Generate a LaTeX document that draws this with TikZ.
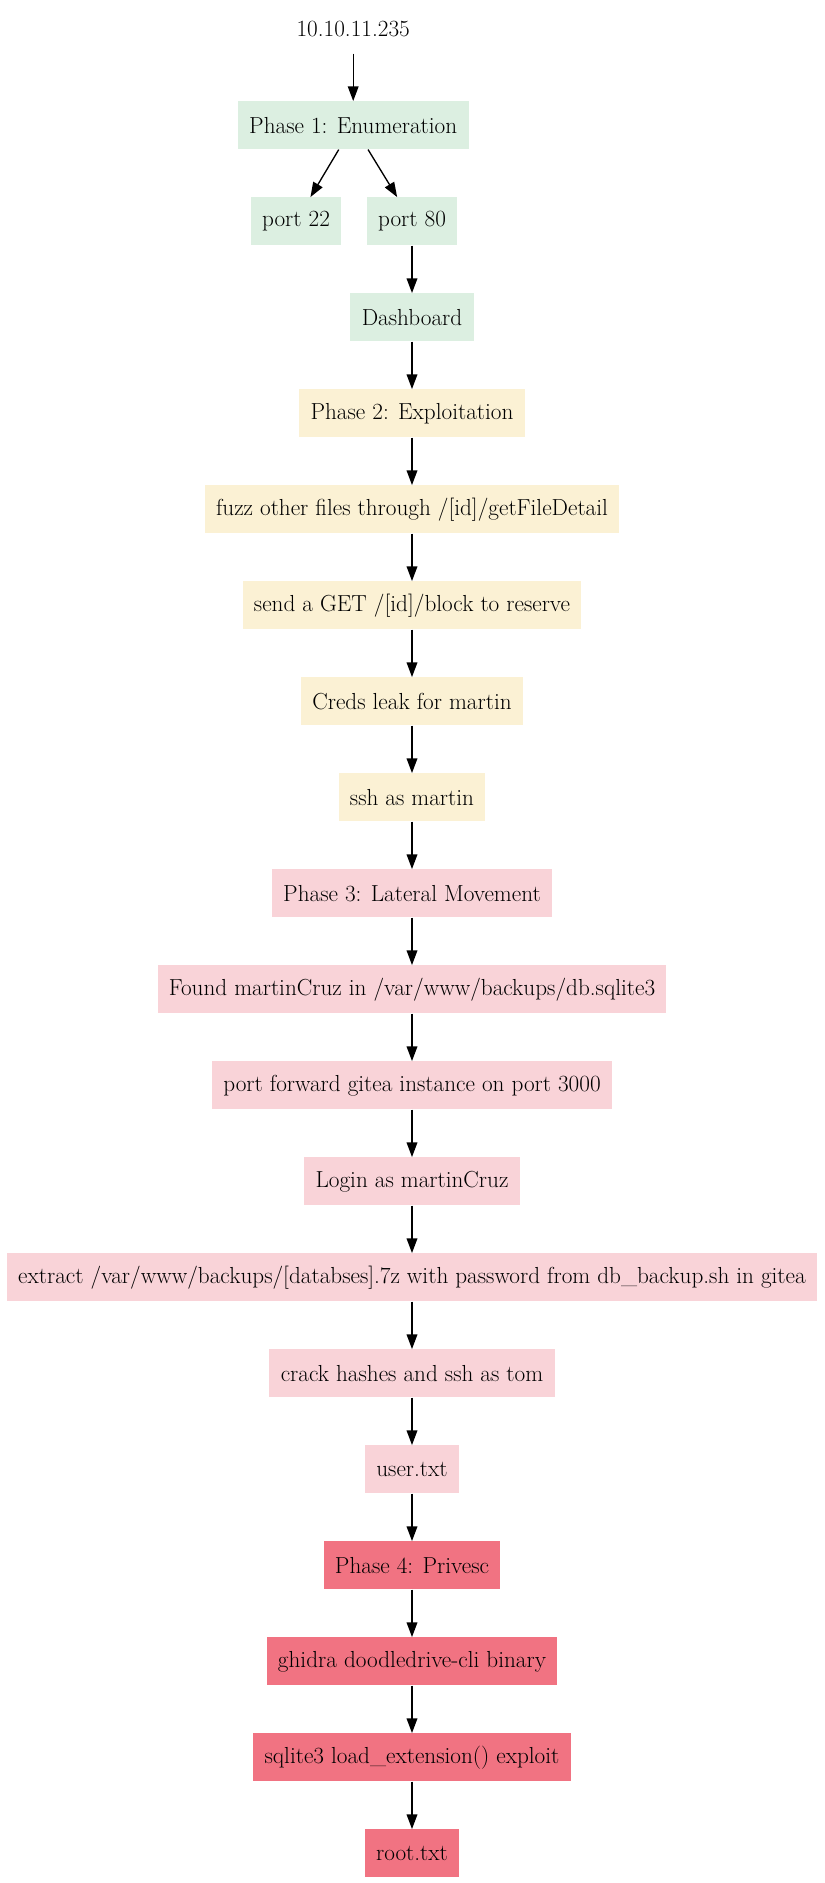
\documentclass[tikz,border=0pt]{standalone}
\usepackage{fontspec}
\usetikzlibrary{arrows.meta}
\definecolor{enumgreen}{RGB}{220,239,225}
\definecolor{exploityellow}{RGB}{251,241,212}
\definecolor{lateralpink}{RGB}{249,211,216}
\definecolor{privescred}{RGB}{241,115,130}
\begin{document}
\begin{tikzpicture}[x=1pt,y=1pt,
    box/.style={minimum height=36pt,minimum width=54pt,inner xsep=8.5pt,
      font=\fontsize{17.4}{20}\selectfont},
    enum/.style={box,fill=enumgreen},
    exploit/.style={box,fill=exploityellow},
    lateral/.style={box,fill=lateralpink},
    privesc/.style={box,fill=privescred},
    edge/.style={-{Triangle[length=11pt,width=8pt]},line width=1pt}]
  \useasboundingbox (0,0) rectangle (618,-1412.25);
  % enumeration
  \node[box] (ip) at (264.9,-22) {10.10.11.235};
  \node[enum] (phase1) at (264.9,-94) {Phase 1: Enumeration};
  \node[enum] (port22) at (222,-166) {port 22};
  \node[enum] (port80) at (309,-166) {port 80};
  \node[enum] (dash) at (309,-238) {Dashboard};
  % exploitation
  \node[exploit] (phase2) at (309,-310) {Phase 2: Exploitation};
  \node[exploit] (fuzz) at (309,-382) {fuzz other files through /[id]/getFileDetail};
  \node[exploit] (block) at (309,-454) {send a GET /[id]/block to reserve};
  \node[exploit] (creds) at (309,-526) {Creds leak for martin};
  \node[exploit] (sshmartin) at (309,-598) {ssh as martin};
  % lateral movement
  \node[lateral] (phase3) at (309,-670) {Phase 3: Lateral Movement};
  \node[lateral] (found) at (309,-742) {Found martinCruz in /var/www/backups/db.sqlite3};
  \node[lateral] (forward) at (309,-814) {port forward gitea instance on port 3000};
  \node[lateral] (login) at (309,-886) {Login as martinCruz};
  \node[lateral] (extract) at (309,-958)
    {extract /var/www/backups/[databses].7z with password from db\_backup.sh in gitea};
  \node[lateral] (crack) at (309,-1030) {crack hashes and ssh as tom};
  \node[lateral] (user) at (309,-1102) {user.txt};
  % privesc
  \node[privesc] (phase4) at (309,-1174) {Phase 4: Privesc};
  \node[privesc] (ghidra) at (309,-1246) {ghidra doodledrive-cli binary};
  \node[privesc] (sqlite) at (309,-1318) {sqlite3 load\_extension() exploit};
  \node[privesc] (root) at (309,-1390) {root.txt};
  % edges
  \draw[edge] (ip) -- (phase1);
  \draw[edge] (phase1) -- (port22);
  \draw[edge] (phase1) -- (port80);
  \foreach \a/\b in {port80/dash, dash/phase2, phase2/fuzz, fuzz/block,
      block/creds, creds/sshmartin, sshmartin/phase3, phase3/found,
      found/forward, forward/login, login/extract, extract/crack,
      crack/user, user/phase4, phase4/ghidra, ghidra/sqlite, sqlite/root}
    \draw[edge] (\a) -- (\b);
\end{tikzpicture}
\end{document}
